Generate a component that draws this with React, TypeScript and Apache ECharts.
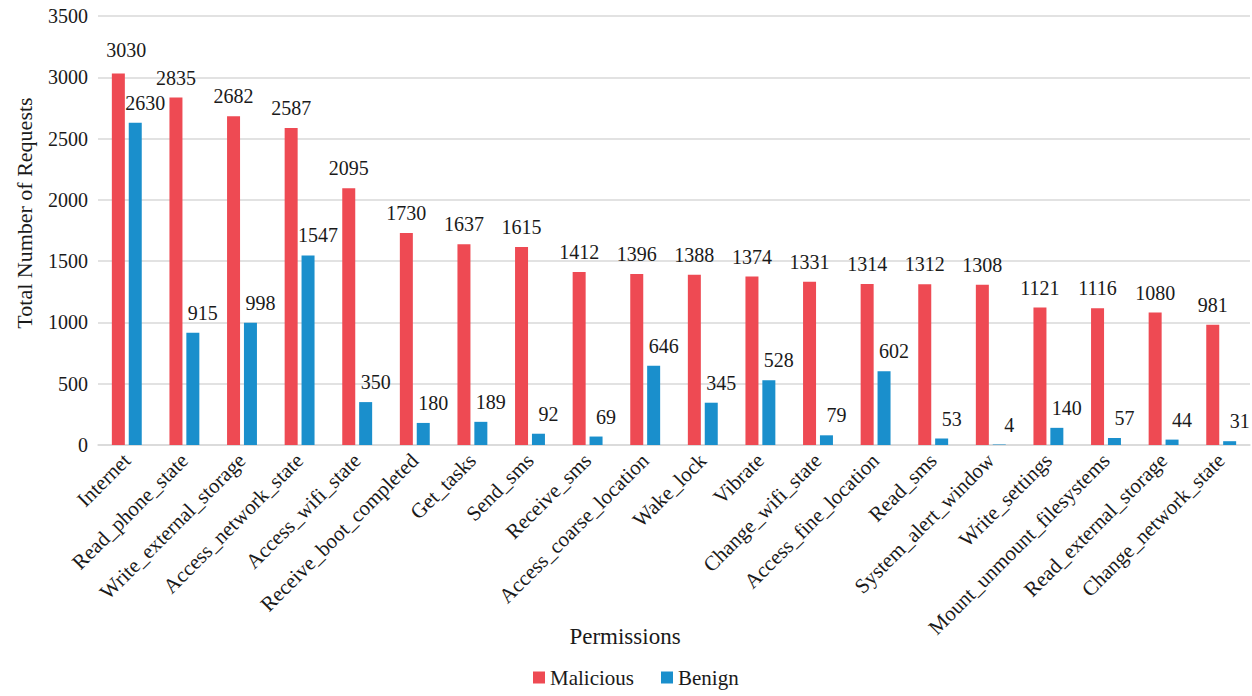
import React, { useEffect, useRef } from "react";
import * as echarts from "echarts";

// Permission request counts per app class
const permissions = [
  "Internet",
  "Read_phone_state",
  "Write_external_storage",
  "Access_network_state",
  "Access_wifi_state",
  "Receive_boot_completed",
  "Get_tasks",
  "Send_sms",
  "Receive_sms",
  "Access_coarse_location",
  "Wake_lock",
  "Vibrate",
  "Change_wifi_state",
  "Access_fine_location",
  "Read_sms",
  "System_alert_window",
  "Write_settings",
  "Mount_unmount_filesystems",
  "Read_external_storage",
  "Change_network_state",
];

const malicious = [
  3030, 2835, 2682, 2587, 2095, 1730, 1637, 1615, 1412, 1396, 1388, 1374, 1331,
  1314, 1312, 1308, 1121, 1116, 1080, 981,
];

const benign = [
  2630, 915, 998, 1547, 350, 180, 189, 92, 69, 646, 345, 528, 79, 602, 53, 4,
  140, 57, 44, 31,
];

const yTicks = { min: 0, max: 3500, interval: 500 };

const FONT = "Liberation Serif";
const RED = "#EE4A53";
const BLUE = "#1A8FCC";
const TEXT = "#1a1a1a";

export default function App() {
  const ref = useRef<HTMLDivElement>(null);

  useEffect(() => {
    if (!ref.current) return;
    const chart = echarts.init(ref.current, undefined, { renderer: "svg" });

    // the first malicious label sits a little right so it clears the benign one
    const maliciousData = malicious.map((v, i) =>
      i === 0 ? { value: v, label: { offset: [8, -9] } } : v
    );

    chart.setOption({
      animation: false,
      backgroundColor: "#ffffff",
      grid: { left: 98, right: 2, top: 16, bottom: 251, containLabel: false },
      legend: {
        data: ["Malicious", "Benign"],
        left: 528,
        top: 662,
        icon: "rect",
        itemWidth: 12,
        itemHeight: 12,
        itemGap: 27,
        textStyle: { fontFamily: FONT, fontSize: 21, color: TEXT },
      },
      xAxis: {
        type: "category",
        data: permissions,
        axisLine: { lineStyle: { color: "#d9d9d9", width: 1.5 } },
        axisTick: { show: false },
        axisLabel: {
          rotate: 45,
          interval: 0,
          margin: 12,
          fontFamily: FONT,
          fontSize: 21,
          color: TEXT,
        },
      },
      yAxis: {
        type: "value",
        min: yTicks.min,
        max: yTicks.max,
        interval: yTicks.interval,
        axisLine: { show: false },
        axisTick: { show: false },
        splitLine: { lineStyle: { color: "#d9d9d9", width: 1.5 } },
        axisLabel: {
          margin: 10,
          fontFamily: FONT,
          fontSize: 20,
          color: TEXT,
          formatter: (v: number) => String(v),
        },
      },
      graphic: [
        {
          type: "text",
          x: 24,
          y: 213,
          rotation: Math.PI / 2,
          style: {
            text: "Total Number of Requests",
            fontFamily: FONT,
            fontSize: 22,
            fill: TEXT,
            textAlign: "center",
            textVerticalAlign: "middle",
          },
        },
        {
          type: "text",
          x: 625,
          y: 636,
          style: {
            text: "Permissions",
            fontFamily: FONT,
            fontSize: 23,
            fill: TEXT,
            textAlign: "center",
            textVerticalAlign: "middle",
          },
        },
      ],
      series: [
        {
          name: "Malicious",
          type: "bar",
          data: maliciousData,
          barWidth: 13,
          barGap: "30%",
          itemStyle: { color: RED },
          label: {
            show: true,
            position: "top",
            distance: 5,
            offset: [0, -5],
            fontFamily: FONT,
            fontSize: 20,
            color: TEXT,
          },
        },
        {
          name: "Benign",
          type: "bar",
          data: benign,
          barWidth: 13,
          itemStyle: { color: BLUE },
          label: {
            show: true,
            position: "top",
            distance: 5,
            offset: [10, -5],
            fontFamily: FONT,
            fontSize: 20,
            color: TEXT,
          },
        },
      ],
    });

    return () => chart.dispose();
  }, []);

  return (
    <div
      ref={ref}
      style={{
        position: "fixed",
        left: 0,
        top: 0,
        width: 1252,
        height: 696,
        background: "#ffffff",
      }}
    />
  );
}
